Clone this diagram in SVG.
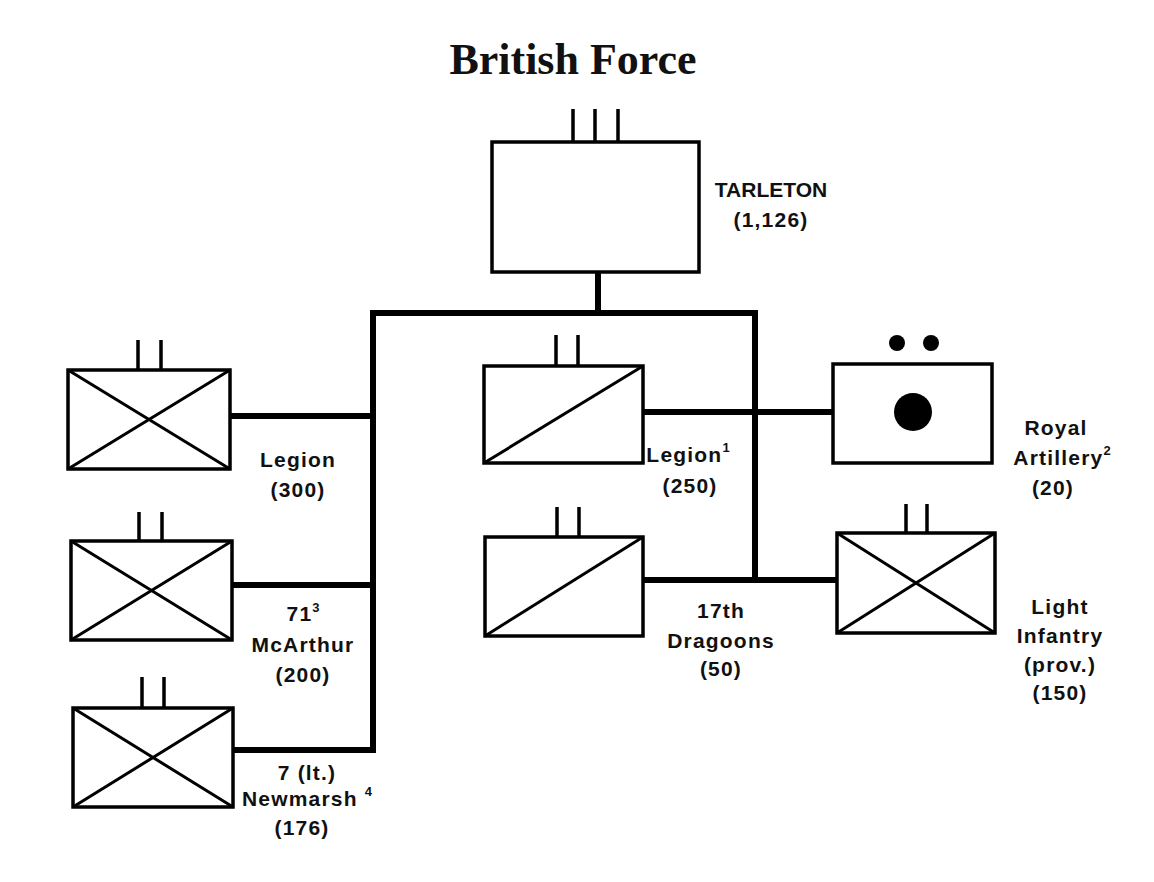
<svg xmlns="http://www.w3.org/2000/svg" width="1154" height="882" viewBox="0 0 1154 882">
<style>
.box{fill:#fff;stroke:#000;stroke-width:3.5}
.in{stroke:#000;stroke-width:3;fill:none}
.tick{stroke:#000;stroke-width:3.5}
.con{stroke:#000;stroke-width:6;fill:none;stroke-linecap:square}
.lbl{font-family:"Liberation Sans",Arial,sans-serif;font-weight:bold;font-size:21px;letter-spacing:1.2px;text-anchor:middle;fill:#111}
.sup{font-size:13px;letter-spacing:0}
.title{font-family:"Liberation Serif","Times New Roman",serif;font-weight:bold;font-size:44px;text-anchor:middle;fill:#111}
</style>
<rect width="1154" height="882" fill="#fff"/>
<text class="title" x="573" y="74">British Force</text>
<g id="connectors">
<path class="con" d="M598 272V313M373 313H755M373 313V750H233M373 416H230M373 585H232M755 313V580M643 412H833M643 580H837"/>
</g>
<g id="tarleton">
<rect class="box" x="492" y="142" width="207" height="130"/>
<path class="tick" d="M573 109V142M595 109V142M618 109V142"/>
<text class="lbl" x="771" y="197" style="letter-spacing:0">TARLETON</text>
<text class="lbl" x="771" y="227">(1,126)</text>
</g>
<g id="legion-300">
<rect class="box" x="68" y="370" width="162" height="99"/>
<path class="in" d="M68 370L230 469M230 370L68 469"/>
<path class="tick" d="M138 340V370M161 340V370"/>
<text class="lbl" x="298" y="467">Legion</text>
<text class="lbl" x="298" y="497">(300)</text>
</g>
<g id="mcarthur">
<rect class="box" x="71" y="541" width="161" height="99"/>
<path class="in" d="M71 541L232 640M232 541L71 640"/>
<path class="tick" d="M139 512V541M162 512V541"/>
<text class="lbl" x="303" y="621">71<tspan class="sup" dy="-9">3</tspan></text>
<text class="lbl" x="303" y="652">McArthur</text>
<text class="lbl" x="303" y="682">(200)</text>
</g>
<g id="newmarsh">
<rect class="box" x="73" y="708" width="160" height="99"/>
<path class="in" d="M73 708L233 807M233 708L73 807"/>
<path class="tick" d="M142 677V708M164 677V708"/>
<text class="lbl" x="307" y="780">7 (lt.)</text>
<text class="lbl" x="307" y="806">Newmarsh <tspan class="sup" dy="-10">4</tspan></text>
<text class="lbl" x="302" y="835">(176)</text>
</g>
<g id="legion-250">
<rect class="box" x="484" y="366" width="159" height="97"/>
<path class="in" d="M484 463L643 366"/>
<path class="tick" d="M556 335V366M578 335V366"/>
<text class="lbl" x="688" y="462">Legion<tspan class="sup" dy="-10">1</tspan></text>
<text class="lbl" x="690" y="493">(250)</text>
</g>
<g id="royal-artillery">
<rect class="box" x="833" y="364" width="159" height="99"/>
<circle cx="897" cy="343" r="8"/>
<circle cx="931" cy="343" r="8"/>
<circle cx="913" cy="412" r="19"/>
<text class="lbl" x="1056" y="435">Royal</text>
<text class="lbl" x="1062" y="465">Artillery<tspan class="sup" dy="-10">2</tspan></text>
<text class="lbl" x="1053" y="495">(20)</text>
</g>
<g id="dragoons">
<rect class="box" x="485" y="537" width="158" height="99"/>
<path class="in" d="M485 636L643 537"/>
<path class="tick" d="M557 507V537M579 507V537"/>
<text class="lbl" x="721" y="618">17th</text>
<text class="lbl" x="721" y="648">Dragoons</text>
<text class="lbl" x="721" y="676">(50)</text>
</g>
<g id="light-infantry">
<rect class="box" x="837" y="533" width="158" height="100"/>
<path class="in" d="M837 533L995 633M995 533L837 633"/>
<path class="tick" d="M906 504V533M927 504V533"/>
<text class="lbl" x="1060" y="614">Light</text>
<text class="lbl" x="1060" y="643">Infantry</text>
<text class="lbl" x="1060" y="672">(prov.)</text>
<text class="lbl" x="1060" y="700">(150)</text>
</g>
</svg>
